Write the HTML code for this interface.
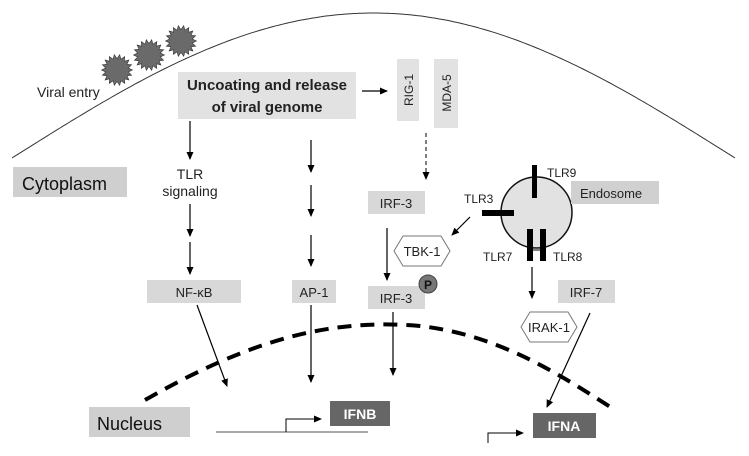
<!DOCTYPE html>
<html><head><meta charset="utf-8"><style>
html,body{margin:0;padding:0;background:#fff;}
svg{display:block;font-family:"Liberation Sans",Arial,sans-serif;}
</style></head><body>
<svg id="s" width="749" height="456" viewBox="0 0 749 456" xmlns="http://www.w3.org/2000/svg">
<defs>
<marker id="ah" markerWidth="8" markerHeight="8" refX="7" refY="4" orient="auto" markerUnits="userSpaceOnUse">
<path d="M0,0.5 L8,4 L0,7.5 z" fill="#000"/></marker>
</defs>
<polyline id="mem" fill="none" stroke="#333" stroke-width="1" points=""/>
<g id="vir" fill="#6a6a6a" stroke="#333" stroke-width="0.6"></g>
<text x="37" y="97" font-size="14" fill="#222">Viral entry</text>
<rect x="178" y="72" width="178" height="47" fill="#e2e2e2"/>
<text x="267" y="90" font-size="15" font-weight="bold" text-anchor="middle" fill="#222">Uncoating and release</text>
<text x="267" y="112" font-size="15" font-weight="bold" text-anchor="middle" fill="#222">of viral genome</text>
<line x1="362" y1="91" x2="387" y2="91" stroke="#000" stroke-width="1.2" marker-end="url(#ah)"/>
<rect x="397" y="59" width="22" height="62" fill="#e2e2e2"/>
<text transform="translate(413,90) rotate(-90)" font-size="12" text-anchor="middle" fill="#222">RIG-1</text>
<rect x="434" y="59" width="24" height="69" fill="#e2e2e2"/>
<text transform="translate(451,93) rotate(-90)" font-size="12" text-anchor="middle" fill="#222">MDA-5</text>
<line x1="426" y1="133" x2="426" y2="179" stroke="#000" stroke-width="1" stroke-dasharray="4,3" marker-end="url(#ah)"/>
<rect x="13" y="167" width="114" height="30" fill="#cfcfcf"/>
<text x="22" y="190" font-size="18" fill="#111">Cytoplasm</text>
<line x1="190" y1="121" x2="190" y2="159" stroke="#000" stroke-width="1.2" marker-end="url(#ah)"/>
<text x="190" y="179" font-size="14" text-anchor="middle" fill="#222">TLR</text>
<text x="190" y="196" font-size="14" text-anchor="middle" fill="#222">signaling</text>
<line x1="190" y1="204" x2="190" y2="236" stroke="#000" stroke-width="1.2" marker-end="url(#ah)"/>
<line x1="190" y1="242" x2="190" y2="274" stroke="#000" stroke-width="1.2" marker-end="url(#ah)"/>
<rect x="147" y="280" width="94" height="23" fill="#d8d8d8"/>
<text x="194" y="297" font-size="13" text-anchor="middle" fill="#222">NF-κB</text>
<line x1="311" y1="140" x2="311" y2="172" stroke="#000" stroke-width="1.2" marker-end="url(#ah)"/>
<line x1="311" y1="185" x2="311" y2="216" stroke="#000" stroke-width="1.2" marker-end="url(#ah)"/>
<line x1="311" y1="235" x2="311" y2="266" stroke="#000" stroke-width="1.2" marker-end="url(#ah)"/>
<rect x="292" y="280" width="44" height="23" fill="#d8d8d8"/>
<text x="314" y="297" font-size="13" text-anchor="middle" fill="#222">AP-1</text>
<rect x="368" y="191" width="57" height="23" fill="#d8d8d8"/>
<text x="396" y="208" font-size="13" text-anchor="middle" fill="#222">IRF-3</text>
<line x1="387" y1="228" x2="387" y2="280" stroke="#000" stroke-width="1.2" marker-end="url(#ah)"/>
<rect x="368" y="286" width="57" height="23" fill="#d8d8d8"/>
<text x="396" y="303" font-size="13" text-anchor="middle" fill="#222">IRF-3</text>
<polygon points="394,251 403,236 441,236 450,251 441,266 403,266" fill="#fff" stroke="#777" stroke-width="1"/>
<text x="422" y="256" font-size="13" text-anchor="middle" fill="#222">TBK-1</text>
<circle cx="428" cy="284" r="9" fill="#777" stroke="#444" stroke-width="1"/>
<text x="428" y="289" font-size="12" font-weight="bold" text-anchor="middle" fill="#111">P</text>
<line x1="470" y1="217" x2="452" y2="235" stroke="#000" stroke-width="1.2" marker-end="url(#ah)"/>
<circle cx="536.5" cy="212.5" r="35.5" fill="#e2e2e2" stroke="#111" stroke-width="1.5"/>
<rect x="532" y="165" width="5" height="33" fill="#000"/>
<rect x="482" y="210" width="32" height="6" fill="#000"/>
<rect x="527" y="229" width="6" height="32" fill="#000"/>
<rect x="540" y="229" width="6" height="32" fill="#000"/>
<line x1="533" y1="250" x2="540" y2="250" stroke="#000" stroke-width="1"/>
<text x="547" y="177" font-size="12" fill="#222">TLR9</text>
<text x="464" y="203" font-size="12" fill="#222">TLR3</text>
<text x="483" y="261" font-size="12" fill="#222">TLR7</text>
<text x="553" y="261" font-size="12" fill="#222">TLR8</text>
<rect x="571" y="181" width="88" height="23" fill="#d0d0d0"/>
<text x="580" y="198" font-size="13" fill="#222">Endosome</text>
<line x1="532" y1="267" x2="532" y2="298" stroke="#000" stroke-width="1.2" marker-end="url(#ah)"/>
<rect x="558" y="280" width="57" height="23" fill="#d8d8d8"/>
<text x="586" y="297" font-size="13" text-anchor="middle" fill="#222">IRF-7</text>
<polygon points="521,327 530,312 568,312 577,327 568,342 530,342" fill="#fff" stroke="#777" stroke-width="1"/>
<text x="549" y="332" font-size="13" text-anchor="middle" fill="#222">IRAK-1</text>
<line x1="590" y1="313" x2="547" y2="407" stroke="#000" stroke-width="1.2" marker-end="url(#ah)"/>
<path d="M145,400 C 250,340 330,318 420,326 C 500,335 560,375 612,408" fill="none" stroke="#000" stroke-width="4" stroke-dasharray="14,9"/>
<line x1="197" y1="305" x2="227" y2="386" stroke="#000" stroke-width="1.2" marker-end="url(#ah)"/>
<line x1="311" y1="305" x2="311" y2="382" stroke="#000" stroke-width="1.2" marker-end="url(#ah)"/>
<line x1="393" y1="312" x2="393" y2="375" stroke="#000" stroke-width="1.2" marker-end="url(#ah)"/>
<rect x="89" y="407" width="101" height="30" fill="#cfcfcf"/>
<text x="97" y="430" font-size="18" fill="#111">Nucleus</text>
<line x1="216" y1="432" x2="368" y2="432" stroke="#777" stroke-width="1.2"/>
<polyline points="286,432 286,419 321,419" fill="none" stroke="#000" stroke-width="1" marker-end="url(#ah)"/>
<rect x="330" y="401" width="60" height="25" fill="#666"/>
<text x="360" y="419" font-size="14" font-weight="bold" text-anchor="middle" fill="#fff">IFNB</text>
<polyline points="488,443 488,433 523,433" fill="none" stroke="#000" stroke-width="1" marker-end="url(#ah)"/>
<rect x="533" y="413" width="63" height="25" fill="#666"/>
<text x="564" y="431" font-size="14" font-weight="bold" text-anchor="middle" fill="#fff">IFNA</text>
</svg>
<script>
(function(){
var p=[];for(var x=12;x<=735;x+=3){p.push(x+","+(158-145*Math.sin(Math.PI*(x-12)/723)).toFixed(1));}
document.getElementById("mem").setAttribute("points",p.join(" "));
var g=document.getElementById("vir"),ns="http://www.w3.org/2000/svg";
[[117,70],[149,55],[181,41]].forEach(function(c){
var pts=[],n=18;for(var i=0;i<2*n;i++){var r=i%2?11.5:15.5,a=Math.PI*i/n;pts.push((c[0]+r*Math.cos(a)).toFixed(1)+","+(c[1]+r*Math.sin(a)).toFixed(1));}
var pg=document.createElementNS(ns,"polygon");pg.setAttribute("points",pts.join(" "));g.appendChild(pg);});
})();
</script>
</body></html>
